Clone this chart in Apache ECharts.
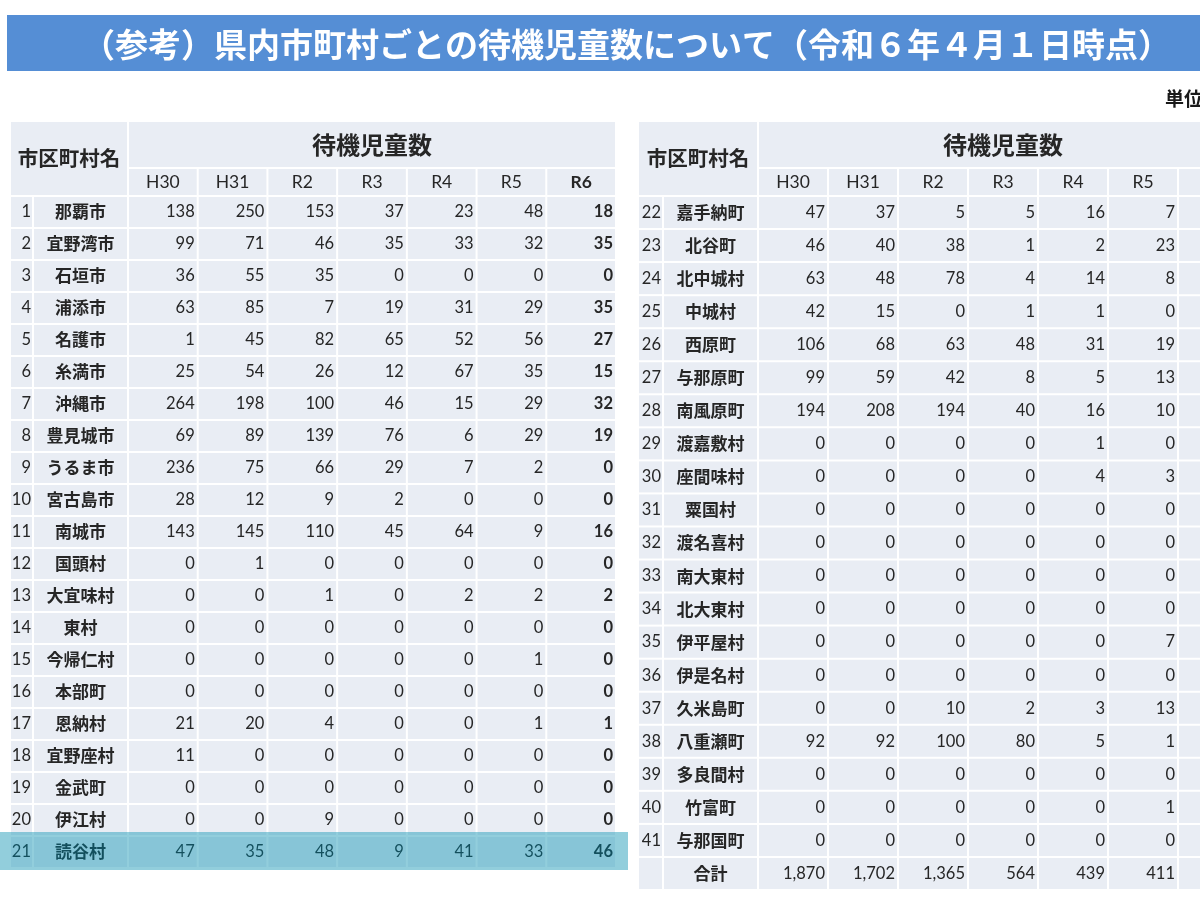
<!DOCTYPE html>
<html><head><meta charset="utf-8">
<script src="https://cdn.jsdelivr.net/npm/echarts@6/dist/echarts.min.js"></script>
<style>html,body{margin:0;padding:0;background:#fff}#c{width:1200px;height:900px}</style>
</head><body><div id="c"></div>
<script>
// ---------- texts ----------
const titleText = '（参考）県内市町村ごとの待機児童数について（令和６年４月１日時点）';
const unitText = '単位：人';
const nameHeader = '市区町村名';
const valueHeader = '待機児童数';
const years = ['H30', 'H31', 'R2', 'R3', 'R4', 'R5', 'R6'];
const highlightRow = '21';

// ---------- left table ----------
const leftNo = ['1','2','3','4','5','6','7','8','9','10','11','12','13','14','15','16','17','18','19','20','21'];
const leftNames = ['那覇市','宜野湾市','石垣市','浦添市','名護市','糸満市','沖縄市','豊見城市','うるま市','宮古島市','南城市','国頭村','大宜味村','東村','今帰仁村','本部町','恩納村','宜野座村','金武町','伊江村','読谷村'];
const leftH30 = [138,99,36,63,1,25,264,69,236,28,143,0,0,0,0,0,21,11,0,0,47];
const leftH31 = [250,71,55,85,45,54,198,89,75,12,145,1,0,0,0,0,20,0,0,0,35];
const leftR2  = [153,46,35,7,82,26,100,139,66,9,110,0,1,0,0,0,4,0,0,9,48];
const leftR3  = [37,35,0,19,65,12,46,76,29,2,45,0,0,0,0,0,0,0,0,0,9];
const leftR4  = [23,33,0,31,52,67,15,6,7,0,64,0,2,0,0,0,0,0,0,0,41];
const leftR5  = [48,32,0,29,56,35,29,29,2,0,9,0,2,0,1,0,1,0,0,0,33];
const leftR6  = [18,35,0,35,27,15,32,19,0,0,16,0,2,0,0,0,1,0,0,0,46];

// ---------- right table (R6 column is cut off in the picture) ----------
const rightNo = ['22','23','24','25','26','27','28','29','30','31','32','33','34','35','36','37','38','39','40','41',''];
const rightNames = ['嘉手納町','北谷町','北中城村','中城村','西原町','与那原町','南風原町','渡嘉敷村','座間味村','粟国村','渡名喜村','南大東村','北大東村','伊平屋村','伊是名村','久米島町','八重瀬町','多良間村','竹富町','与那国町','合計'];
const rightH30 = [47,46,63,42,106,99,194,0,0,0,0,0,0,0,0,0,92,0,0,0,1870];
const rightH31 = [37,40,48,15,68,59,208,0,0,0,0,0,0,0,0,0,92,0,0,0,1702];
const rightR2  = [5,38,78,0,63,42,194,0,0,0,0,0,0,0,0,10,100,0,0,0,1365];
const rightR3  = [5,1,4,1,48,8,40,0,0,0,0,0,0,0,0,2,80,0,0,0,564];
const rightR4  = [16,2,14,1,31,5,16,1,4,0,0,0,0,0,0,3,5,0,0,0,439];
const rightR5  = [7,23,8,0,19,13,10,0,3,0,0,0,0,7,0,13,1,0,1,0,411];
const rightR6  = [null,null,null,null,null,null,null,null,null,null,null,null,null,null,null,null,null,null,null,null,null];

// ---------- styling ----------
const CJK = '"Noto Sans CJK JP", "Noto Sans", sans-serif';
const NUM = 'Lato, "Noto Sans", sans-serif';
const CELL = '#E9EDF4';
const INK = '#262626';

const grids = [], xAxes = [], yAxes = [], series = [];

function addGrid(rect, xCats, yCats) {
  const i = grids.length;
  grids.push(Object.assign({ show: false, outerBoundsMode: 'none', containLabel: false }, rect));
  xAxes.push({ type: 'category', gridIndex: i, data: xCats, show: false });
  yAxes.push({ type: 'category', gridIndex: i, data: yCats, show: false, inverse: true });
  return i;
}

function addCells(gi, cells) {
  series.push({
    type: 'custom', xAxisIndex: gi, yAxisIndex: gi, silent: true, z: 2, clip: false,
    data: cells.map(d => [d.c, d.r]),
    renderItem(params, api) {
      const d = cells[params.dataIndex];
      const p = api.coord([api.value(0), api.value(1)]);
      const s = api.size([1, 1]);
      const x0 = p[0] - s[0] / 2, y0 = p[1] - s[1] / 2;
      const children = [{ type: 'rect', shape: { x: x0 + 1, y: y0 + 1, width: s[0] - 2, height: s[1] - 2 }, style: { fill: CELL } }];
      if (d.text !== '' && d.text != null) {
        const tx = d.align === 'right' ? x0 + s[0] - d.pad : p[0];
        children.push({ type: 'text', style: {
          text: d.text, x: tx, y: p[1] + (d.dy || 0), align: d.align || 'center', verticalAlign: 'middle',
          fontFamily: d.family, fontSize: d.size, fontWeight: d.weight || 'normal', fill: d.ink || INK } });
      }
      return { type: 'group', children };
    }
  });
}

function fmt(v) { return v == null ? '' : v.toLocaleString('en-US'); }

function buildTable(L, no, names, cols) {
  const hl = no.indexOf(highlightRow) >= 0 && L.hl ? no.indexOf(highlightRow) : -1;
  const ink = r => (r === hl ? '#000000' : INK);
  const corner = addGrid({ left: L.x, top: L.top, width: L.noW + L.nameW, height: L.h1 + L.h2 }, [nameHeader], ['']);
  addCells(corner, [{ c: 0, r: 0, text: nameHeader, family: CJK, size: 20.5, weight: 'bold' }]);
  const vx = L.x + L.noW + L.nameW;
  const hdr1 = addGrid({ left: vx, top: L.top, width: L.valW, height: L.h1 }, [valueHeader], ['']);
  addCells(hdr1, [{ c: 0, r: 0, text: valueHeader, family: CJK, size: 24, weight: 'bold' }]);
  const hdr2 = addGrid({ left: vx, top: L.top + L.h1, width: L.valW, height: L.h2 }, years, ['']);
  addCells(hdr2, years.map((y, i) => ({ c: i, r: 0, text: y, family: NUM, size: 17.5, weight: i === 6 ? 'bold' : 'normal' })));
  const bt = L.top + L.h1 + L.h2;
  const noG = addGrid({ left: L.x, top: bt, width: L.noW, height: L.bodyH }, ['No'], no);
  addCells(noG, no.map((t, r) => ({ c: 0, r, text: t, family: NUM, size: 16.5, align: 'right', pad: 2, ink: ink(r) })));
  const nmG = addGrid({ left: L.x + L.noW, top: bt, width: L.nameW, height: L.bodyH }, ['name'], no);
  addCells(nmG, names.map((t, r) => ({ c: 0, r, text: t, family: CJK, size: 17, weight: 'bold', ink: ink(r) })));
  const body = addGrid({ left: vx, top: bt, width: L.valW, height: L.bodyH }, years, no);
  const cells = [];
  cols.forEach((arr, c) => arr.forEach((v, r) => cells.push({ c, r, text: fmt(v), family: NUM, size: 16.5, align: 'right', pad: 3, weight: c === 6 ? 'bold' : 'normal', ink: ink(r) })));
  addCells(body, cells);
  return body;
}

const leftBody = buildTable({ x: 10, top: 121, noW: 23, nameW: 95, valW: 488, h1: 47, h2: 28, bodyH: 672, hl: true },
  leftNo, leftNames, [leftH30, leftH31, leftR2, leftR3, leftR4, leftR5, leftR6]);
buildTable({ x: 638, top: 121, noW: 25, nameW: 95, valW: 490, h1: 47, h2: 28, bodyH: 694, hl: false },
  rightNo, rightNames, [rightH30, rightH31, rightR2, rightR3, rightR4, rightR5, rightR6]);

// highlight band over row 21 (semi-transparent overlay)
series.push({
  type: 'custom', xAxisIndex: leftBody, yAxisIndex: leftBody, silent: true, z: 10, clip: false,
  data: [[0, leftNo.indexOf(highlightRow)]],
  renderItem(params, api) {
    const p = api.coord([api.value(0), api.value(1)]);
    const s = api.size([1, 1]);
    const right = p[0] - s[0] / 2 + years.length * s[0] + 12;
    const y0 = p[1] - s[1] / 2 - 4;
    return { type: 'rect', shape: { x: 0, y: y0, width: right, height: s[1] + 6 }, style: { fill: 'rgba(37,157,185,0.5)' } };
  }
});

const chart = echarts.init(document.getElementById('c'), null, { renderer: 'canvas' });
chart.setOption({
  backgroundColor: '#ffffff',
  animation: false,
  title: {
    text: titleText, left: 82, top: 23, padding: 0,
    textStyle: { color: '#ffffff', fontSize: 33, fontWeight: 'bold', fontFamily: CJK, lineHeight: 42 }
  },
  graphic: [
    { type: 'rect', left: 7, top: 15, z: -1, shape: { width: 1200, height: 56 }, style: { fill: '#558ED5' } },
    { type: 'text', left: 1165, top: 89, style: { text: unitText, fontSize: 19, fontWeight: 'bold', fontFamily: CJK, fill: '#1a1a1a' } }
  ],
  grid: grids, xAxis: xAxes, yAxis: yAxes, series
});
</script></body></html>
